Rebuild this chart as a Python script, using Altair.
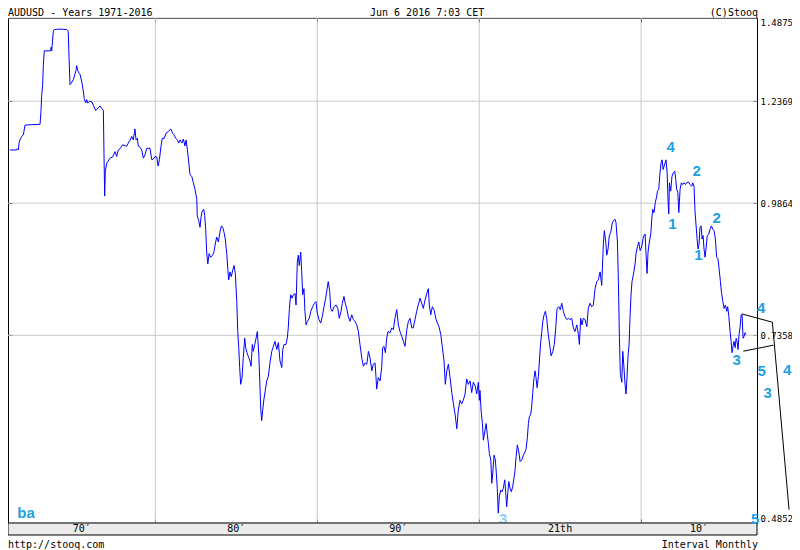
import altair as alt
import pandas as pd

# ---------------- data ----------------
years = [
    1971.02, 1971.44, 1971.47, 1971.54, 1971.58, 1971.64, 1971.75, 1971.85, 1971.95, 1972.88,
    1972.94, 1972.98, 1973.04, 1973.08, 1973.14, 1973.54, 1973.56, 1973.60, 1973.70, 1973.76,
    1973.99, 1974.24, 1974.53, 1974.62, 1974.67, 1974.73, 1974.79, 1974.93, 1975.10, 1975.14,
    1975.21, 1975.29, 1975.35, 1975.45, 1975.55, 1975.61, 1975.70, 1975.76, 1975.82, 1975.96,
    1976.07, 1976.17, 1976.32, 1976.38, 1976.48, 1976.58, 1976.69, 1976.79, 1976.83, 1976.87,
    1976.91, 1977.00, 1977.20, 1977.37, 1977.51, 1977.61, 1977.71, 1977.82, 1977.98, 1978.23,
    1978.33, 1978.44, 1978.54, 1978.64, 1978.74, 1978.81, 1978.89, 1978.95, 1979.05, 1979.16,
    1979.26, 1979.36, 1979.47, 1979.67, 1979.78, 1979.88, 1979.98, 1980.09, 1980.17, 1980.25,
    1980.35, 1980.43, 1980.55, 1980.66, 1980.80, 1980.95, 1981.07, 1981.15, 1981.26, 1981.36,
    1981.44, 1981.52, 1981.63, 1981.73, 1981.83, 1981.90, 1981.98, 1982.08, 1982.14, 1982.25,
    1982.35, 1982.45, 1982.56, 1982.59, 1982.68, 1982.76, 1982.82, 1982.90, 1982.99, 1983.05,
    1983.11, 1983.17, 1983.24, 1983.32, 1983.42, 1983.52, 1983.62, 1983.70, 1983.79, 1983.89,
    1983.99, 1984.08, 1984.16, 1984.24, 1984.32, 1984.41, 1984.49, 1984.53, 1984.61, 1984.69,
    1984.78, 1984.86, 1984.94, 1985.03, 1985.09, 1985.15, 1985.21, 1985.27, 1985.35, 1985.43,
    1985.52, 1985.58, 1985.66, 1985.77, 1985.85, 1985.91, 1985.99, 1986.05, 1986.14, 1986.22,
    1986.30, 1986.39, 1986.45, 1986.51, 1986.57, 1986.63, 1986.71, 1986.79, 1986.88, 1986.98,
    1987.08, 1987.19, 1987.29, 1987.39, 1987.50, 1987.60, 1987.70, 1987.81, 1987.87, 1987.95,
    1988.07, 1988.15, 1988.21, 1988.28, 1988.36, 1988.44, 1988.52, 1988.63, 1988.69, 1988.77,
    1988.83, 1988.89, 1988.98, 1989.04, 1989.10, 1989.18, 1989.24, 1989.31, 1989.39, 1989.51,
    1989.60, 1989.72, 1989.82, 1989.92, 1990.00, 1990.11, 1990.21, 1990.31, 1990.42, 1990.52,
    1990.60, 1990.68, 1990.77, 1990.83, 1990.93, 1991.04, 1991.16, 1991.27, 1991.36, 1991.47,
    1991.55, 1991.65, 1991.73, 1991.82, 1991.92, 1992.02, 1992.13, 1992.23, 1992.33, 1992.44,
    1992.54, 1992.64, 1992.75, 1992.85, 1992.95, 1993.06, 1993.16, 1993.26, 1993.37, 1993.46,
    1993.57, 1993.63, 1993.67, 1993.77, 1993.88, 1993.98, 1994.04, 1994.12, 1994.21, 1994.29,
    1994.37, 1994.50, 1994.60, 1994.70, 1994.80, 1994.91, 1995.01, 1995.11, 1995.22, 1995.32,
    1995.42, 1995.53, 1995.63, 1995.73, 1995.84, 1995.93, 1996.04, 1996.14, 1996.24, 1996.35,
    1996.45, 1996.55, 1996.66, 1996.76, 1996.86, 1996.92, 1997.01, 1997.11, 1997.21, 1997.32,
    1997.42, 1997.52, 1997.63, 1997.73, 1997.83, 1997.91, 1998.00, 1998.10, 1998.20, 1998.31,
    1998.41, 1998.51, 1998.62, 1998.71, 1998.82, 1998.92, 1999.02, 1999.13, 1999.23, 1999.33,
    1999.44, 1999.54, 1999.64, 1999.75, 1999.85, 1999.95, 2000.01, 2000.05, 2000.12, 2000.20,
    2000.26, 2000.36, 2000.43, 2000.51, 2000.57, 2000.63, 2000.72, 2000.78, 2000.84, 2000.92,
    2001.00, 2001.06, 2001.12, 2001.18, 2001.25, 2001.33, 2001.41, 2001.49, 2001.58, 2001.64,
    2001.70, 2001.77, 2001.83, 2001.91, 2001.99, 2002.07, 2002.15, 2002.22, 2002.28, 2002.36,
    2002.45, 2002.53, 2002.63, 2002.73, 2002.83, 2002.90, 2002.98, 2003.04, 2003.10, 2003.19,
    2003.25, 2003.31, 2003.39, 2003.45, 2003.51, 2003.58, 2003.66, 2003.72, 2003.80, 2003.87,
    2003.93, 2004.01, 2004.09, 2004.17, 2004.27, 2004.38, 2004.44, 2004.55, 2004.64, 2004.73,
    2004.81, 2004.92, 2005.01, 2005.10, 2005.20, 2005.30, 2005.41, 2005.51, 2005.61, 2005.72,
    2005.82, 2005.92, 2006.03, 2006.13, 2006.19, 2006.27, 2006.35, 2006.43, 2006.54, 2006.65,
    2006.74, 2006.85, 2006.95, 2007.05, 2007.16, 2007.26, 2007.36, 2007.47, 2007.57, 2007.67,
    2007.73, 2007.82, 2007.88, 2007.96, 2008.04, 2008.13, 2008.21, 2008.29, 2008.39, 2008.45,
    2008.54, 2008.60, 2008.66, 2008.72, 2008.81, 2008.87, 2008.93, 2009.01, 2009.07, 2009.13,
    2009.20, 2009.26, 2009.32, 2009.38, 2009.44, 2009.52, 2009.63, 2009.69, 2009.77, 2009.86,
    2009.94, 2010.04, 2010.14, 2010.25, 2010.31, 2010.37, 2010.43, 2010.51, 2010.60, 2010.66,
    2010.72, 2010.80, 2010.88, 2010.97, 2011.01, 2011.09, 2011.17, 2011.23, 2011.30, 2011.36,
    2011.42, 2011.48, 2011.54, 2011.61, 2011.67, 2011.71, 2011.75, 2011.83, 2011.91, 2011.99,
    2012.08, 2012.14, 2012.20, 2012.27, 2012.33, 2012.41, 2012.49, 2012.57, 2012.66, 2012.74,
    2012.82, 2012.92, 2013.03, 2013.13, 2013.19, 2013.27, 2013.33, 2013.40, 2013.46, 2013.52,
    2013.58, 2013.64, 2013.71, 2013.77, 2013.83, 2013.89, 2013.95, 2014.01, 2014.09, 2014.18,
    2014.26, 2014.34, 2014.43, 2014.51, 2014.59, 2014.67, 2014.75, 2014.84, 2014.90, 2014.96,
    2015.05, 2015.13, 2015.21, 2015.29, 2015.35, 2015.42, 2015.50, 2015.56, 2015.62, 2015.68,
    2015.74, 2015.81, 2015.87, 2015.93, 2015.99, 2016.05, 2016.11, 2016.18, 2016.24, 2016.30,
    2016.36, 2016.42, 2016.47,
]
prices = [
    1.110, 1.110, 1.113, 1.110, 1.127, 1.135, 1.144, 1.148, 1.173, 1.175,
    1.212, 1.253, 1.281, 1.338, 1.383, 1.383, 1.394, 1.383, 1.445, 1.450,
    1.451, 1.451, 1.450, 1.445, 1.363, 1.283, 1.286, 1.297, 1.324, 1.338,
    1.324, 1.316, 1.312, 1.293, 1.265, 1.244, 1.232, 1.241, 1.232, 1.237,
    1.235, 1.226, 1.211, 1.214, 1.219, 1.224, 1.217, 1.212, 1.098, 1.002,
    1.059, 1.078, 1.090, 1.093, 1.106, 1.094, 1.110, 1.113, 1.123, 1.119,
    1.127, 1.134, 1.144, 1.135, 1.163, 1.135, 1.139, 1.119, 1.117, 1.110,
    1.090, 1.098, 1.114, 1.114, 1.086, 1.088, 1.094, 1.093, 1.071, 1.086,
    1.119, 1.139, 1.139, 1.152, 1.156, 1.163, 1.152, 1.148, 1.139, 1.135,
    1.127, 1.135, 1.127, 1.137, 1.120, 1.135, 1.110, 1.074, 1.051, 1.047,
    1.032, 1.017, 0.995, 0.959, 0.949, 0.935, 0.956, 0.970, 0.973, 0.959,
    0.931, 0.885, 0.862, 0.882, 0.875, 0.878, 0.885, 0.901, 0.915, 0.905,
    0.925, 0.938, 0.935, 0.925, 0.911, 0.882, 0.847, 0.832, 0.847, 0.838,
    0.850, 0.859, 0.844, 0.793, 0.742, 0.716, 0.685, 0.660, 0.668, 0.700,
    0.731, 0.716, 0.708, 0.700, 0.695, 0.687, 0.721, 0.710, 0.721, 0.731,
    0.742, 0.705, 0.665, 0.625, 0.609, 0.623, 0.639, 0.651, 0.665, 0.672,
    0.692, 0.710, 0.718, 0.726, 0.713, 0.724, 0.695, 0.685, 0.713, 0.721,
    0.721, 0.731, 0.748, 0.781, 0.805, 0.799, 0.805, 0.807, 0.787, 0.866,
    0.879, 0.859, 0.885, 0.847, 0.805, 0.816, 0.776, 0.753, 0.759, 0.764,
    0.776, 0.784, 0.790, 0.793, 0.773, 0.762, 0.756, 0.767, 0.784, 0.799,
    0.814, 0.829, 0.811, 0.781, 0.776, 0.784, 0.787, 0.781, 0.764, 0.776,
    0.790, 0.802, 0.790, 0.781, 0.767, 0.759, 0.770, 0.762, 0.759, 0.753,
    0.742, 0.721, 0.700, 0.687, 0.692, 0.690, 0.710, 0.700, 0.680, 0.690,
    0.692, 0.670, 0.653, 0.670, 0.665, 0.685, 0.716, 0.718, 0.708, 0.731,
    0.742, 0.740, 0.748, 0.745, 0.764, 0.779, 0.753, 0.742, 0.734, 0.726,
    0.718, 0.745, 0.759, 0.764, 0.748, 0.748, 0.762, 0.776, 0.787, 0.799,
    0.790, 0.781, 0.796, 0.807, 0.816, 0.787, 0.770, 0.784, 0.779, 0.764,
    0.756, 0.750, 0.737, 0.716, 0.695, 0.660, 0.680, 0.690, 0.670, 0.648,
    0.632, 0.618, 0.598, 0.623, 0.637, 0.632, 0.637, 0.646, 0.668, 0.660,
    0.665, 0.648, 0.663, 0.658, 0.646, 0.663, 0.637, 0.651, 0.623, 0.605,
    0.583, 0.596, 0.605, 0.589, 0.579, 0.566, 0.558, 0.530, 0.542, 0.564,
    0.558, 0.542, 0.524, 0.496, 0.515, 0.522, 0.520, 0.524, 0.534, 0.519,
    0.503, 0.519, 0.532, 0.524, 0.520, 0.526, 0.536, 0.546, 0.562, 0.577,
    0.568, 0.556, 0.558, 0.564, 0.568, 0.572, 0.587, 0.605, 0.614, 0.618,
    0.630, 0.648, 0.670, 0.680, 0.670, 0.655, 0.672, 0.695, 0.724, 0.742,
    0.759, 0.770, 0.776, 0.764, 0.737, 0.716, 0.703, 0.710, 0.721, 0.748,
    0.781, 0.784, 0.779, 0.790, 0.776, 0.767, 0.762, 0.764, 0.762, 0.764,
    0.748, 0.742, 0.753, 0.737, 0.721, 0.764, 0.753, 0.764, 0.762, 0.750,
    0.781, 0.790, 0.784, 0.787, 0.816, 0.829, 0.832, 0.847, 0.822, 0.901,
    0.928, 0.905, 0.879, 0.891, 0.918, 0.925, 0.942, 0.949, 0.952, 0.945,
    0.905, 0.829, 0.734, 0.675, 0.663, 0.710, 0.690, 0.660, 0.646, 0.670,
    0.705, 0.721, 0.767, 0.805, 0.829, 0.841, 0.862, 0.882, 0.895, 0.905,
    0.888, 0.895, 0.915, 0.921, 0.879, 0.844, 0.885, 0.905, 0.921, 0.952,
    0.973, 0.966, 0.988, 1.002, 1.013, 1.017, 1.055, 1.078, 1.086, 1.063,
    1.071, 1.078, 1.086, 1.055, 0.988, 0.963, 1.032, 1.013, 1.047, 1.055,
    1.059, 1.040, 1.017, 1.010, 0.966, 1.017, 1.032, 1.028, 1.032, 1.028,
    1.032, 1.034, 1.028, 1.024, 1.032, 1.024, 0.970, 0.938, 0.911, 0.891,
    0.901, 0.935, 0.938, 0.911, 0.918, 0.891, 0.875, 0.891, 0.918, 0.921,
    0.931, 0.938, 0.931, 0.928, 0.911, 0.875, 0.872, 0.847, 0.829, 0.811,
    0.793, 0.781, 0.787, 0.776, 0.784, 0.767, 0.742, 0.726, 0.708, 0.718,
    0.726, 0.716, 0.731, 0.726, 0.713, 0.737, 0.748, 0.770, 0.770, 0.731,
    0.734, 0.740, 0.737,
]

# projection (channel) lines drawn in black
proj_years = [2016.22, 2018.11, 2019.14, 2016.32, 2018.17]
proj_prices = [0.7716, 0.7575, 0.4998, 0.7103, 0.7198]
proj_seg = ["a", "a", "a", "b", "b"]

# wave count labels
wave_labels = ["ba", "4", "2", "1", "2", "1", "4", "3", "5", "4", "3", "5"]
wave_years = [1972.01, 2011.83, 2013.44, 2011.93, 2014.67, 2013.54,
              2017.41, 2015.91, 2017.45, 2019.03, 2017.82, 2017.04]
wave_prices = [0.4966, 1.117, 1.059, 0.942, 0.9536, 0.8785,
               0.7813, 0.6965, 0.6798, 0.681, 0.648, 0.4898]
faded_labels = ["3"]
faded_years = [2001.48]
faded_prices = [0.4890]

y_ticks = [0.4852, 0.7358, 0.9864, 1.2369, 1.4875]
x_grid = [1980, 1990, 2000, 2010]
band_labels = ["70\u2032", "80\u2032", "90\u2032", "21th", "10\u2032"]
band_years = [1975.45, 1985.0, 1995.0, 2005.0, 2013.58]

x_domain = [1970.9, 2017.16]

# ---------------- chart ----------------
W, H = 749, 505
MONO = "DejaVu Sans Mono"
BLUE_LBL = "#1E9FE3"

xs = alt.Scale(domain=x_domain, nice=False, zero=False)
ys = alt.Scale(type="log", domain=[y_ticks[0], y_ticks[-1]], nice=False)

df = pd.DataFrame({"year": years, "price": prices})
dproj = pd.DataFrame({"year": proj_years, "price": proj_prices, "seg": proj_seg})
dwave = pd.DataFrame({"year": wave_years, "price": wave_prices, "label": wave_labels})
dfaded = pd.DataFrame({"year": faded_years, "price": faded_prices, "label": faded_labels})
dgx = pd.DataFrame({"year": x_grid})
dgy = pd.DataFrame({"price": y_ticks})
dband = pd.DataFrame({"year": band_years, "label": band_labels})
one = pd.DataFrame({"k": [0]})

tick_axis = dict(domain=False, labels=False, ticks=True, tickSize=4, tickColor="black",
                 tickWidth=1, grid=False, title=None, offset=-4)

grid_x = alt.Chart(dgx).mark_rule(color="#c8c8c8", strokeWidth=1).encode(
    x=alt.X("year:Q", scale=xs, axis=alt.Axis(orient="top", values=x_grid, **tick_axis))
)
grid_y = alt.Chart(dgy).mark_rule(color="#c8c8c8", strokeWidth=1).encode(
    y=alt.Y("price:Q", scale=ys, axis=alt.Axis(orient="left", values=y_ticks, **tick_axis))
)

line = alt.Chart(df).mark_line(color="#0000ff", strokeWidth=1).encode(
    x=alt.X("year:Q", scale=xs, axis=alt.Axis(orient="bottom", values=x_grid, **tick_axis)),
    y=alt.Y("price:Q", scale=ys, axis=alt.Axis(
        orient="right", values=y_ticks, format=".4f", domain=False, ticks=True,
        tickSize=4, tickColor="black", grid=False, title=None, offset=-4,
        labelFont=MONO, labelFontSize=9, labelColor="black", labelPadding=3,
        labelFlush=True)),
)

proj = alt.Chart(dproj).mark_line(color="black", strokeWidth=1).encode(
    x=alt.X("year:Q", scale=xs, axis=None),
    y=alt.Y("price:Q", scale=ys, axis=None),
    detail="seg:N",
)

faded = alt.Chart(dfaded).mark_text(font="Liberation Sans", fontSize=15, fontWeight="bold",
                                    color="#8fd0f2", align="center", baseline="middle").encode(
    x=alt.X("year:Q", scale=xs, axis=None),
    y=alt.Y("price:Q", scale=ys, axis=None),
    text="label:N",
)

band = alt.Chart(one).mark_rect(fill="#ebebeb", stroke="black", strokeWidth=1).encode(
    x=alt.value(0), x2=alt.value(W), y=alt.value(H), y2=alt.value(H + 12)
)
band_text = alt.Chart(dband).mark_text(font=MONO, fontSize=10, color="black",
                                       align="center", baseline="middle").encode(
    x=alt.X("year:Q", scale=xs, axis=None),
    y=alt.value(H + 6),
    text="label:N",
)

waves = alt.Chart(dwave).mark_text(font="Liberation Sans", fontSize=15, fontWeight="bold",
                                   color=BLUE_LBL, align="center", baseline="middle").encode(
    x=alt.X("year:Q", scale=xs, axis=None),
    y=alt.Y("price:Q", scale=ys, axis=None),
    text="label:N",
)


def label(txt, x, y, align="left", baseline="alphabetic"):
    return alt.Chart(one).mark_text(font=MONO, fontSize=10, color="black",
                                    align=align, baseline=baseline).encode(
        x=alt.value(x), y=alt.value(y), text=alt.value(txt))


head1 = label("AUDUSD - Years 1971-2016", 0, -2.5)
head2 = label("Jun 6 2016 7:03 CET", 362, -2.5)
head3 = label("(C)Stooq", W + 1, -2.5, align="right")
foot1 = label("http://stooq.com", 0, H + 22, baseline="middle")
foot2 = label("Interval Monthly", W + 1, H + 22, align="right", baseline="middle")

chart = alt.layer(
    grid_x, grid_y, line, proj, faded, band, band_text, waves,
    head1, head2, head3, foot1, foot2,
).resolve_axis(
    x="independent", y="independent"
).properties(
    width=W, height=H,
    autosize=alt.AutoSizeParams(type="none"),
    padding={"left": 0, "top": 10, "right": 35, "bottom": 27},
    background="white",
).configure_view(
    stroke="black", strokeWidth=1
)

chart.save("out.html", embed_options={"renderer": "svg", "actions": False})
